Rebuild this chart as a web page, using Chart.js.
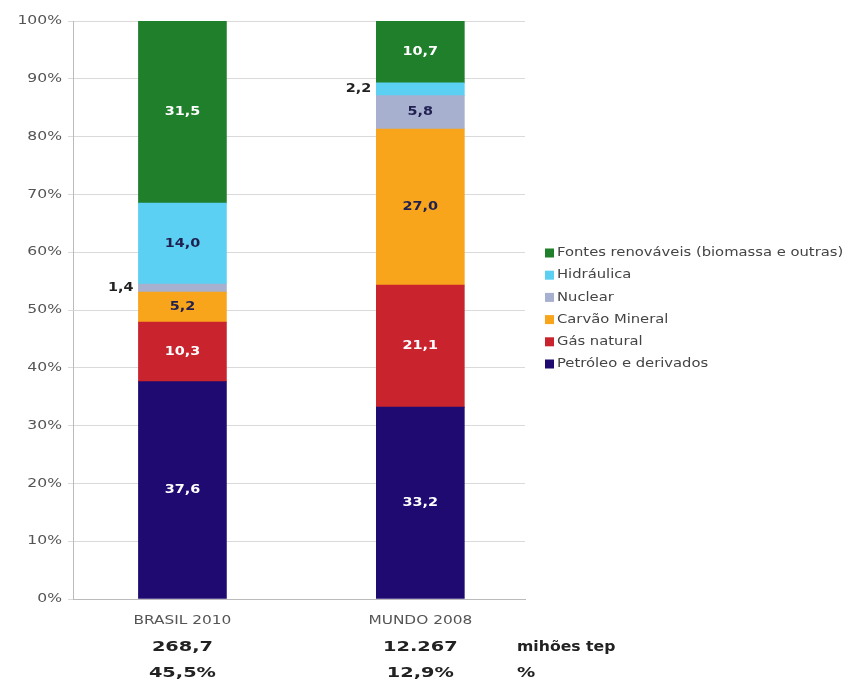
<!DOCTYPE html>
<html>
<head>
<meta charset="utf-8">
<script src="https://cdn.jsdelivr.net/npm/chart.js@4/dist/chart.umd.min.js"></script>
<style>
  html, body { margin: 0; padding: 0; background: #fff; }
  #wrap { width: 851px; height: 682px; }
</style>
</head>
<body>
<div id="wrap"><canvas id="chart" width="851" height="682"></canvas></div>
<script>
// categories and stacked shares (%)
var categories = ['BRASIL 2010', 'MUNDO 2008'];
var petroleo = [37.6, 33.2];
var gas = [10.3, 21.1];
var carvao = [5.2, 27.0];
var nuclear = [1.4, 5.8];
var hidraulica = [14.0, 2.2];
var renovaveis = [31.5, 10.7];
var yTicks = [0, 10, 20, 30, 40, 50, 60, 70, 80, 90, 100];
var totals = ['268,7', '12.267'];
var shares = ['45,5%', '12,9%'];
var totalsUnit = 'mihões tep';
var sharesUnit = '%';

var FONT = '"DejaVu Sans", Verdana, sans-serif';

function ds(label, data, color, textColor) {
    return {
        label: label,
        data: data.map(function(v, i) { return { x: i, y: v }; }),
        values: data,
        backgroundColor: color,
        borderWidth: 0,
        textColor: textColor
    };
}

// text a bit wider than DejaVu, like the Verdana of the original
function wideText(ctx, str, x, y, align, sx) {
    var w = ctx.measureText(str).width * sx;
    var left = x;
    if (align === 'center') left = x - w / 2;
    if (align === 'right') left = x - w;
    ctx.save();
    ctx.translate(left, y);
    ctx.scale(sx, 1);
    ctx.textAlign = 'left';
    ctx.fillText(str, 0, 0);
    ctx.restore();
}

// value labels inside the bars (small pieces go to the left of the bar)
var valueLabels = {
    id: 'valueLabels',
    afterDatasetsDraw: function(chart) {
        var ctx = chart.ctx;
        ctx.save();
        ctx.font = 'bold 12px ' + FONT;
        ctx.textBaseline = 'middle';
        chart.data.datasets.forEach(function(d, i) {
            var meta = chart.getDatasetMeta(i);
            meta.data.forEach(function(bar, j) {
                var v = d.values[j];
                var txt = v.toFixed(1).replace('.', ',');
                var y = (bar.y + bar.base) / 2;
                if (v < 3) {
                    ctx.fillStyle = '#222';
                    wideText(ctx, txt, bar.x - bar.width / 2 - 5, y, 'right', 1.2);
                } else {
                    ctx.fillStyle = d.textColor;
                    wideText(ctx, txt, bar.x, y, 'center', 1.2);
                }
            });
        });
        ctx.restore();
    }
};

// axis labels, legend and the two rows under the categories
var extraText = {
    id: 'extraText',
    afterDraw: function(chart) {
        var ctx = chart.ctx;
        var xs = chart.scales.x;
        var ys = chart.scales.y;
        var area = chart.chartArea;
        ctx.save();
        ctx.textBaseline = 'middle';

        ctx.font = '12px ' + FONT;
        ctx.fillStyle = '#555';
        yTicks.forEach(function(t) {
            wideText(ctx, t + '%', area.left - 11, ys.getPixelForValue(t), 'right', 1.3);
        });
        categories.forEach(function(c, i) {
            wideText(ctx, c, xs.getPixelForValue(i), area.bottom + 22, 'center', 1.28);
        });

        // legend, top item = last dataset
        var items = chart.data.datasets.slice().reverse();
        var lx = area.right + 20;
        items.forEach(function(d, i) {
            var yy = 253 + i * 22.2;
            ctx.fillStyle = d.backgroundColor;
            ctx.fillRect(lx, yy - 4.5, 9, 9);
            ctx.fillStyle = '#444';
            wideText(ctx, d.label, lx + 12, yy, 'left', 1.23);
        });

        ctx.font = 'bold 14px ' + FONT;
        ctx.fillStyle = '#222';
        categories.forEach(function(c, i) {
            var x = xs.getPixelForValue(i);
            wideText(ctx, totals[i], x, area.bottom + 48, 'center', 1.38);
            wideText(ctx, shares[i], x, area.bottom + 74, 'center', 1.38);
        });
        wideText(ctx, totalsUnit, area.right - 8, area.bottom + 48, 'left', 1.12);
        wideText(ctx, sharesUnit, area.right - 8, area.bottom + 74, 'left', 1.3);
        ctx.restore();
    }
};

var config = {
    type: 'bar',
    data: {
        datasets: [
            ds('Petróleo e derivados', petroleo, '#1f0a72', '#fff'),
            ds('Gás natural', gas, '#c9242e', '#fff'),
            ds('Carvão Mineral', carvao, '#f9a51b', '#1f1f50'),
            ds('Nuclear', nuclear, '#a7b0cf', '#1f1f50'),
            ds('Hidráulica', hidraulica, '#5bd0f2', '#1f1f50'),
            ds('Fontes renováveis (biomassa e outras)', renovaveis, '#1f7f2b', '#fff')
        ]
    },
    options: {
        responsive: false,
        animation: false,
        layout: { padding: { top: 21, bottom: 75, left: 68, right: 326 } },
        datasets: { bar: { barThickness: 88 } },
        plugins: {
            tooltip: { enabled: false },
            legend: { display: false }
        },
        scales: {
            x: {
                type: 'linear',
                stacked: true,
                offset: false,
                min: -0.46,
                max: 1.44,
                grid: { display: false },
                border: { color: '#bbb' },
                ticks: { display: false }
            },
            y: {
                stacked: true,
                min: 0,
                max: 100,
                ticks: { stepSize: 10, display: false },
                grid: { color: '#dadada', tickLength: 5 },
                border: { color: '#bbb' }
            }
        }
    },
    plugins: [valueLabels, extraText]
};

new Chart(document.getElementById('chart'), config);
</script>
</body>
</html>
